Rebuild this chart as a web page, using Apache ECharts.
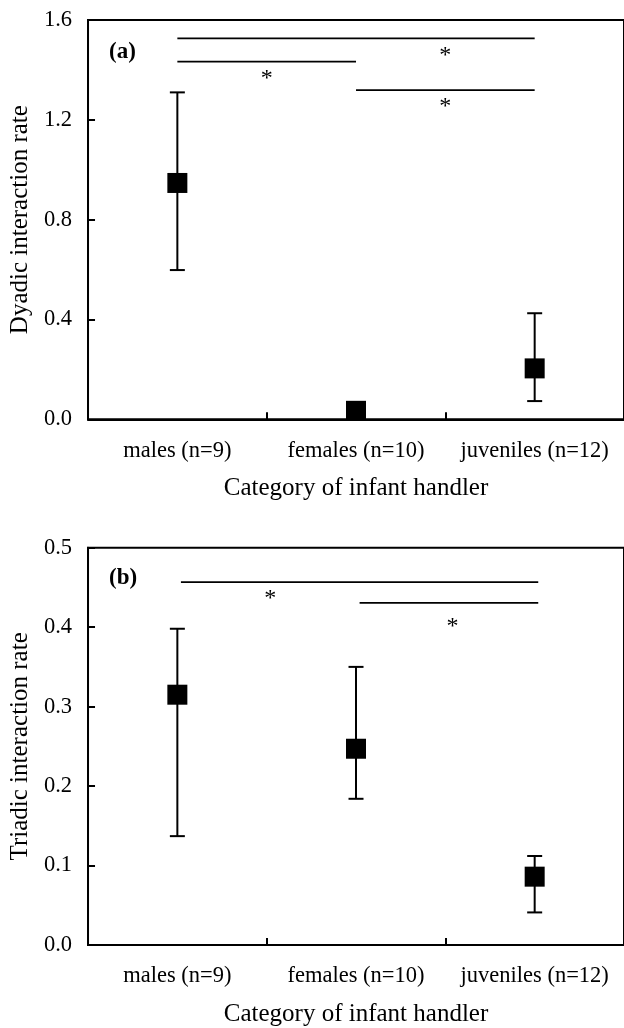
<!DOCTYPE html>
<html>
<head>
<meta charset="utf-8">
<script src="https://cdn.jsdelivr.net/npm/echarts@6/dist/echarts.min.js"></script>
<style>html,body{margin:0;padding:0;background:#fff;}#c{width:624px;height:1028px;}</style>
</head>
<body>
<div id="c"></div>
<script>
const categories = ['males (n=9)', 'females (n=10)', 'juveniles (n=12)'];
const xTitle = 'Category of infant handler';

const dyadicMean = [0.947, 0.034, 0.204];
const dyadicUpper = [1.31, 0.05, 0.425];
const dyadicLower = [0.598, 0.02, 0.073];
const dyadicTicks = [0, 0.4, 0.8, 1.2, 1.6];

const triadicMean = [0.315, 0.247, 0.086];
const triadicUpper = [0.398, 0.350, 0.112];
const triadicLower = [0.137, 0.184, 0.041];
const triadicTicks = [0, 0.1, 0.2, 0.3, 0.4, 0.5];

// significance bars: [xStart, xEnd, y] on a 0..3 category-span scale
const dyadicBars = [[0.5, 2.5, 1.526], [0.5, 1.5, 1.433], [1.5, 2.5, 1.319]];
const dyadicStars = [[2.0, 1.472], [1.0, 1.379], [2.0, 1.267]];
const triadicBars = [[0.52, 2.52, 0.4566], [1.52, 2.52, 0.4306]];
const triadicStars = [[1.02, 0.4406], [2.04, 0.4059]];

const FONT = 'Liberation Serif';
const chart = echarts.init(document.getElementById('c'));

function makeErr(idx, upper, lower) {
  return {
    type: 'custom', xAxisIndex: idx * 2, yAxisIndex: idx, z: 3,
    data: categories.map((c, i) => [i, lower[i], upper[i]]),
    renderItem: function (params, api) {
      const lo = api.coord([api.value(0), api.value(1)]);
      const hi = api.coord([api.value(0), api.value(2)]);
      const w = 7.5;
      return {
        type: 'group', children: [
          { type: 'line', shape: { x1: hi[0], y1: hi[1], x2: lo[0], y2: lo[1] }, style: { stroke: '#000', lineWidth: 2 } },
          { type: 'line', shape: { x1: hi[0] - w, y1: hi[1], x2: hi[0] + w, y2: hi[1] }, style: { stroke: '#000', lineWidth: 2 } },
          { type: 'line', shape: { x1: lo[0] - w, y1: lo[1], x2: lo[0] + w, y2: lo[1] }, style: { stroke: '#000', lineWidth: 2 } }
        ]
      };
    }
  };
}
function makeBars(idx, bars) {
  return {
    type: 'custom', xAxisIndex: idx * 2 + 1, yAxisIndex: idx, z: 2,
    data: bars,
    renderItem: function (params, api) {
      const a = api.coord([api.value(0), api.value(2)]);
      const b = api.coord([api.value(1), api.value(2)]);
      return { type: 'line', shape: { x1: a[0], y1: a[1], x2: b[0], y2: b[1] }, style: { stroke: '#000', lineWidth: 1.8 } };
    }
  };
}
function makeStars(idx, stars) {
  return {
    type: 'custom', xAxisIndex: idx * 2 + 1, yAxisIndex: idx, z: 2,
    data: stars,
    renderItem: function (params, api) {
      const p = api.coord([api.value(0), api.value(1)]);
      return { type: 'text', x: p[0], y: p[1] + 4, style: { text: '*', font: '24px "' + FONT + '"', fill: '#000', align: 'center', verticalAlign: 'middle' } };
    }
  };
}
function makeMean(idx, mean) {
  return {
    type: 'scatter', xAxisIndex: idx * 2, yAxisIndex: idx, z: 4,
    symbol: 'rect', symbolSize: 20, itemStyle: { color: '#000', opacity: 1 },
    data: categories.map((c, i) => [i, mean[i]])
  };
}

const axisText = { color: '#000', fontFamily: FONT, fontSize: 22.5 };
function xCat(gi) {
  return {
    type: 'category', gridIndex: gi, data: categories, boundaryGap: true,
    axisLine: { show: true, lineStyle: { color: '#000', width: 2 } },
    axisTick: { show: true, inside: true, length: 7, interval: 0, alignWithLabel: false, lineStyle: { color: '#000', width: 2 } },
    axisLabel: Object.assign({ margin: 20, interval: 0, hideOverlap: false }, axisText),
    name: xTitle, nameLocation: 'middle', nameGap: 57,
    nameTextStyle: { color: '#000', fontFamily: FONT, fontSize: 25 },
    splitLine: { show: false }
  };
}
function xVal(gi) {
  return { type: 'value', gridIndex: gi, min: 0, max: 3, show: false };
}
function yVal(gi, ticks, name) {
  return {
    type: 'value', gridIndex: gi, min: ticks[0], max: ticks[ticks.length - 1],
    interval: ticks[1] - ticks[0],
    axisLine: { show: true, lineStyle: { color: '#000', width: 2 } },
    axisTick: { show: true, inside: true, length: 7, lineStyle: { color: '#000', width: 2 } },
    axisLabel: Object.assign({ margin: 16, formatter: v => v.toFixed(1) }, axisText),
    splitLine: { show: false },
    name: name, nameLocation: 'middle', nameGap: 55,
    nameTextStyle: { color: '#000', fontFamily: FONT, fontSize: 25 }
  };
}

chart.setOption({
  animation: false,
  backgroundColor: '#fff',
  title: [
    { text: '(a)', left: 104, top: 36, textStyle: { fontFamily: FONT, fontWeight: 'bold', fontSize: 23, color: '#000' } },
    { text: '(b)', left: 104, top: 562, textStyle: { fontFamily: FONT, fontWeight: 'bold', fontSize: 23, color: '#000' } }
  ],
  grid: [
    { left: 88, top: 20, width: 538.5, height: 399.3, show: true, borderColor: '#000', borderWidth: 2, backgroundColor: 'transparent' },
    { left: 88, top: 547.7, width: 538.5, height: 398.3, show: true, borderColor: '#000', borderWidth: 2, backgroundColor: 'transparent' }
  ],
  xAxis: [xCat(0), xVal(0), xCat(1), xVal(1)],
  yAxis: [yVal(0, dyadicTicks, 'Dyadic interaction rate'), yVal(1, triadicTicks, 'Triadic interaction rate')],
  series: [
    makeErr(0, dyadicUpper, dyadicLower), makeMean(0, dyadicMean),
    makeBars(0, dyadicBars), makeStars(0, dyadicStars),
    makeErr(1, triadicUpper, triadicLower), makeMean(1, triadicMean),
    makeBars(1, triadicBars), makeStars(1, triadicStars)
  ]
});
</script>
</body>
</html>
